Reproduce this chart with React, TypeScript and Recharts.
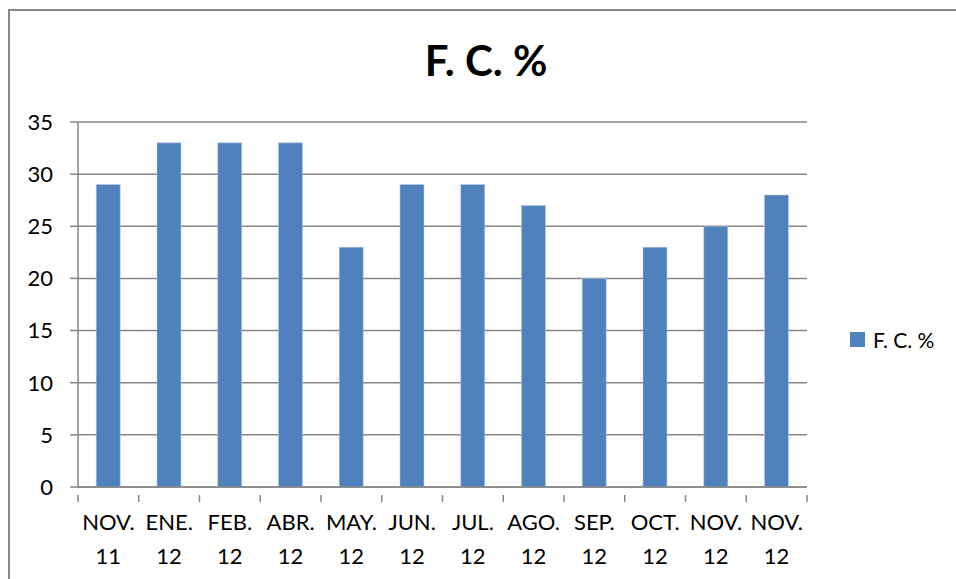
import { BarChart, Bar, XAxis, YAxis, CartesianGrid } from 'recharts';

const months = ['NOV.', 'ENE.', 'FEB.', 'ABR.', 'MAY.', 'JUN.', 'JUL.', 'AGO.', 'SEP.', 'OCT.', 'NOV.', 'NOV.'];
const years = ['11', '12', '12', '12', '12', '12', '12', '12', '12', '12', '12', '12'];
const fcValues = [29, 33, 33, 33, 23, 29, 29, 27, 20, 23, 25, 28];
const yTicks = [0, 5, 10, 15, 20, 25, 30, 35];

const data = months.map((m, i) => ({ key: `${m}-${i}`, month: m, year: years[i], fc: fcValues[i] }));

const W = 956;
const H = 579;
const PLOT_LEFT = 78;
const PLOT_RIGHT = 807;
const STEP = (PLOT_RIGHT - PLOT_LEFT) / data.length;
const FONT = 'Lato, "Open Sans", sans-serif';
const AXIS = '#868686';
const BLUE = '#4F81BD';

// category label in two rows, tick marks sit on the category boundaries
function XTick(props: any) {
  const { x, y, payload, index } = props;
  const row = data[index];
  return (
    <g>
      <line x1={x - STEP / 2} y1={y} x2={x - STEP / 2} y2={y + 7} stroke={AXIS} strokeWidth={1.5} />
      {index === data.length - 1 && (
        <line x1={x + STEP / 2} y1={y} x2={x + STEP / 2} y2={y + 7} stroke={AXIS} strokeWidth={1.5} />
      )}
      <text x={x} y={y + 35} textAnchor="middle" fontSize={22} fill="#000" fontFamily={FONT}>
        {row ? row.month : payload.value}
      </text>
      <text x={x} y={y + 69} textAnchor="middle" fontSize={22} fill="#000" fontFamily={FONT}>
        {row ? row.year : ''}
      </text>
    </g>
  );
}

export default function App() {
  return (
    <div style={{ position: 'absolute', left: 0, top: 0, width: W, height: H, background: '#fff', overflow: 'hidden' }}>
      <div
        style={{
          position: 'absolute',
          left: 8,
          top: 9,
          width: W,
          height: H,
          borderTop: `2px solid ${AXIS}`,
          borderLeft: `2px solid ${AXIS}`,
          boxSizing: 'border-box',
        }}
      />
      <div
        style={{
          position: 'absolute',
          left: 0,
          width: 972,
          top: 35,
          textAlign: 'center',
          fontFamily: FONT,
          fontWeight: 'bold',
          fontSize: 42,
          color: '#000',
        }}
      >
        F. C. %
      </div>
      <div style={{ position: 'absolute', left: 0, top: 0 }}>
        <BarChart
          width={W}
          height={H}
          data={data}
          margin={{ top: 122, right: W - PLOT_RIGHT, bottom: 0, left: 0 }}
          barCategoryGap="30%"
        >
          <CartesianGrid vertical={false} stroke={AXIS} strokeWidth={1.5} />
          <YAxis
            type="number"
            domain={[0, 35]}
            ticks={yTicks}
            width={PLOT_LEFT}
            tickSize={8}
            tickMargin={17}
            axisLine={{ stroke: AXIS, strokeWidth: 1.5 }}
            tickLine={{ stroke: AXIS, strokeWidth: 1.5 }}
            tick={{ fontSize: 22, fill: '#000', fontFamily: FONT }}
            interval={0}
          />
          <XAxis
            dataKey="key"
            height={92}
            interval={0}
            tickLine={false}
            axisLine={{ stroke: AXIS, strokeWidth: 1.5 }}
            tick={<XTick />}
          />
          <Bar dataKey="fc" name="F. C. %" fill={BLUE} stroke="#B9CDE5" strokeWidth={0.5} isAnimationActive={false} />
        </BarChart>
      </div>
      <div
        style={{
          position: 'absolute',
          left: 850,
          top: 327,
          display: 'flex',
          alignItems: 'center',
          fontFamily: FONT,
          fontSize: 21,
          color: '#000',
          whiteSpace: 'nowrap',
        }}
      >
        <span style={{ display: 'inline-block', width: 15, height: 15, background: BLUE, marginRight: 8 }} />
        <span>F. C. %</span>
      </div>
    </div>
  );
}
